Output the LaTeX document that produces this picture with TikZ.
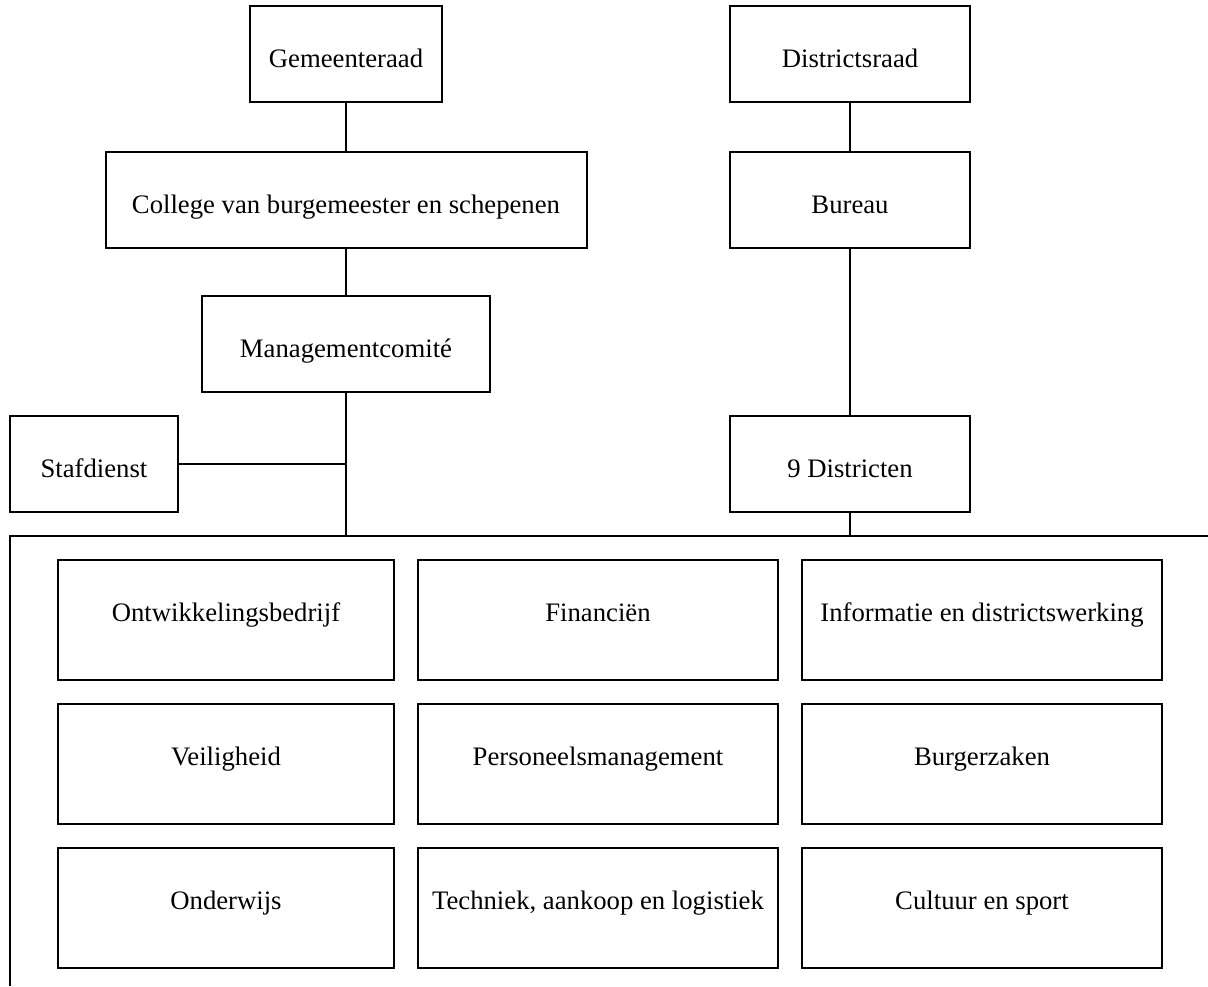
\documentclass[tikz,border=0pt]{standalone}
\usepackage{fontspec}
\setmainfont{Liberation Serif}
\usetikzlibrary{positioning}

\begin{document}
\begin{tikzpicture}
[x=0.5pt,y=-0.5pt,node distance=23pt,font=\fontsize{13.35}{16}\selectfont]
\tikzstyle{box}=[draw, line width=1pt, minimum height=48pt, inner sep=0pt, align=center, text height=16pt, text depth=3pt]
\tikzstyle{dept}=[box, minimum height=60pt, minimum width=180pt, text height=9pt, text depth=8pt]
\tikzstyle{link}=[line width=1pt]

\useasboundingbox (0,0) rectangle (1208,986);

% stad
\node[box, minimum width=96pt] (raad) at (346,54) {Gemeenteraad};
\node[box, minimum width=240.5pt] (college) [below=24pt of raad] {College van burgemeester en schepenen};
\node[box, minimum width=144pt] (mancom) [below=23pt of college] {Managementcomit\'e};
\node[box, minimum width=84pt] (staf) at (94,464) {Stafdienst};

% districten
\node[box, minimum width=120pt] (draad) at (850,54) {Districtsraad};
\node[box, minimum width=120pt] (bureau) [below=24pt of draad] {Bureau};
\node[box, minimum width=120pt] (distr) [below=83pt of bureau] {9 Districten};

% bedrijven
\coordinate (frame) at (10,536);
\draw[link] (10,986) -- (frame) -- (1208,536);

\node[dept, minimum width=168pt] (ontw) at (226,620) {Ontwikkelingsbedrijf};
\node[dept] (fin) [right=11pt of ontw] {Financi\"en};
\node[dept] (info) [right=11pt of fin] {Informatie en districtswerking};
\node[dept, minimum width=168pt] (veil) [below=11pt of ontw] {Veiligheid};
\node[dept] (pers) [below=11pt of fin] {Personeelsmanagement};
\node[dept] (burg) [below=11pt of info] {Burgerzaken};
\node[dept, minimum width=168pt] (ondw) [below=11pt of veil] {Onderwijs};
\node[dept] (tech) [below=11pt of pers] {Techniek, aankoop en logistiek};
\node[dept] (cult) [below=11pt of burg] {Cultuur en sport};

\draw[link] (raad) -- (college);
\draw[link] (college) -- (mancom);
\draw[link] (mancom) -- (mancom |- frame);
\draw[link] (staf.east) -- (staf.east -| mancom);
\draw[link] (draad) -- (bureau);
\draw[link] (bureau) -- (distr);
\draw[link] (distr) -- (distr |- frame);
\end{tikzpicture}
\end{document}
